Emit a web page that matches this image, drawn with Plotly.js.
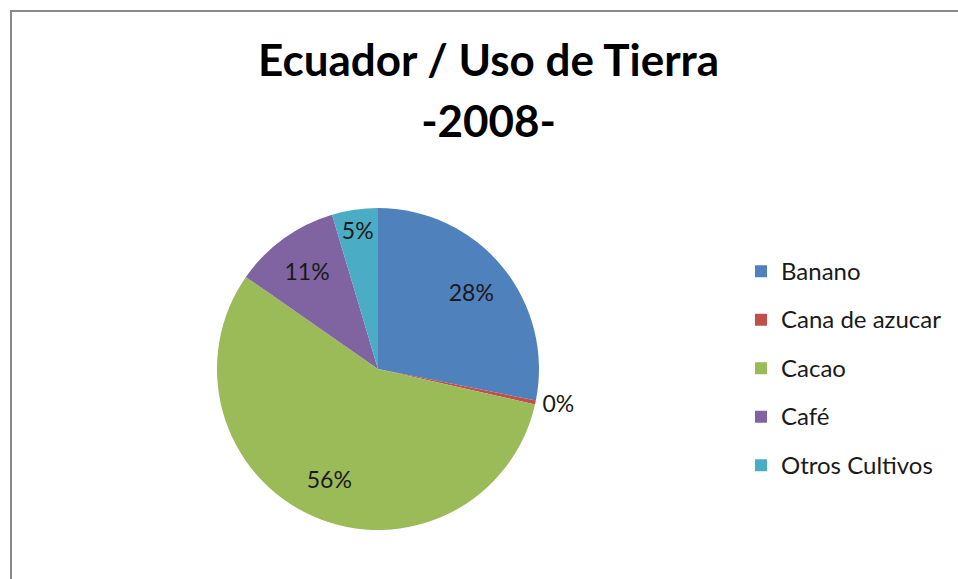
<!DOCTYPE html>
<html>
<head>
<meta charset="utf-8">
<script src="https://cdn.plot.ly/plotly-3.0.1.min.js"></script>
<style>
  html, body { margin: 0; padding: 0; background: #ffffff; }
  #wrap { position: relative; width: 958px; height: 579px; overflow: hidden; }
  #chart { position: absolute; left: 0; top: 0; width: 958px; height: 579px; }
  #frame { position: absolute; left: 10px; top: 10px; width: 1000px; height: 700px;
           border-left: 2px solid #898989; border-top: 2px solid #898989; pointer-events: none; }
</style>
</head>
<body>
<div id="wrap">
  <div id="chart"></div>
  <div id="frame"></div>
</div>
<script>
// Categories and values (share of land use, %)
const categorias = ["Banano", "Cana de azucar", "Cacao", "Café", "Otros Cultivos"];
const valores = [28.1, 0.4, 56.1, 10.7, 4.6];
const colores = ["#4F81BD", "#C0504D", "#9BBB59", "#8064A2", "#4BACC6"];
const posiciones = ["inside", "outside", "inside", "inside", "inside"];
const titulo1 = "Ecuador / Uso de Tierra";
const titulo2 = "-2008-";

const fontFam = "Lato, 'Open Sans', sans-serif";
const dominio = { x: [0.2265, 0.5626], y: [0.0846, 0.6408] };
const txtColor = "#1a1a1a";

// Main pie: slices + legend
const pie = {
  type: "pie",
  labels: categorias.map(c => '<span style="font-size:24px;baseline-shift:5px">' + c + '</span>'),
  values: valores,
  sort: false,
  direction: "clockwise",
  rotation: 0,
  marker: { colors: colores, line: { width: 0 } },
  textinfo: "none",
  hoverinfo: "label+percent",
  domain: dominio,
  automargin: false
};

// Transparent ring on top of the same data: carries the percent labels
const etiquetas = {
  type: "pie",
  labels: pie.labels,
  values: valores,
  sort: false,
  direction: "clockwise",
  rotation: 0,
  hole: 0.5,
  marker: { colors: colores.map(() => "rgba(0,0,0,0)"), line: { width: 0 } },
  texttemplate: "%{percent:.0%}",
  textposition: posiciones,
  insidetextorientation: "horizontal",
  textfont: { family: fontFam, size: 23, color: txtColor },
  insidetextfont: { family: fontFam, size: 23, color: txtColor },
  outsidetextfont: { family: fontFam, size: 23, color: txtColor },
  showlegend: false,
  hoverinfo: "skip",
  domain: dominio,
  automargin: false
};

const layout = {
  width: 958,
  height: 579,
  margin: { l: 0, r: 0, t: 0, b: 0 },
  paper_bgcolor: "#ffffff",
  plot_bgcolor: "#ffffff",
  uniformtext: { mode: "show", minsize: 23 },
  title: {
    text: '<b><span style="font-size:44px">' + titulo1 + '</span><br><span style="font-size:44px">' + titulo2 + '</span></b>',
    font: { family: fontFam, size: 47, color: "#000000" },
    x: 0.51, xanchor: "center",
    y: 1 - 76 / 579, yanchor: "top", yref: "container"
  },
  showlegend: true,
  legend: {
    x: 741 / 958, xanchor: "left",
    y: 1 - 242 / 579, yanchor: "top",
    font: { family: fontFam, size: 35, color: txtColor },
    bgcolor: "rgba(0,0,0,0)",
    borderwidth: 0
  }
};

Plotly.newPlot("chart", [pie, etiquetas], layout, { displayModeBar: false, staticPlot: true });
</script>
</body>
</html>
